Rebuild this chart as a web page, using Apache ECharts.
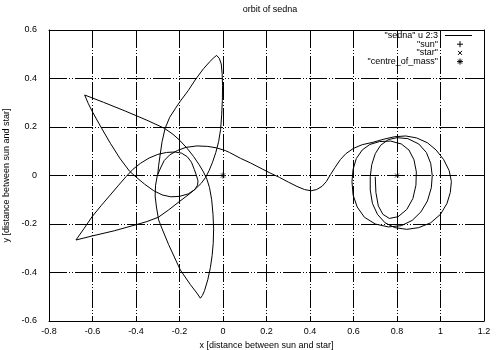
<!DOCTYPE html>
<html>
<head>
<meta charset="utf-8">
<script src="https://cdn.jsdelivr.net/npm/echarts@6/dist/echarts.min.js"></script>
<style>
  html, body { margin: 0; padding: 0; background: #fff; }
  #chart { width: 500px; height: 350px; }
</style>
</head>
<body>
<div id="chart"></div>
<script>
// Axis ticks
const xTicks = [-0.8, -0.6, -0.4, -0.2, 0, 0.2, 0.4, 0.6, 0.8, 1, 1.2];
const xTickLabels = ['-0.8', '-0.6', '-0.4', '-0.2', '0', '0.2', '0.4', '0.6', '0.8', '1', '1.2'];
const yTicks = [-0.6, -0.4, -0.2, 0, 0.2, 0.4, 0.6];
const yTickLabels = ['-0.6', '-0.4', '-0.2', '0', '0.2', '0.4', '0.6'];

// Sedna trajectory (columns 2:3), split into legs in the order they are flown.
// Leg 1: up to the upper cusp, back down past the sun to the lower-left cusp
const legUpperCusp = [
  [-0.300, 0.005], [-0.296, 0.040], [-0.288, 0.092], [-0.280, 0.140], [-0.266, 0.195],
  [-0.245, 0.240], [-0.220, 0.275], [-0.196, 0.307], [-0.160, 0.350], [-0.125, 0.398],
  [-0.090, 0.440], [-0.060, 0.470], [-0.040, 0.488], [-0.029, 0.495], [-0.017, 0.483],
  [-0.008, 0.460], [-0.004, 0.420], [-0.002, 0.370], [-0.003, 0.310], [-0.006, 0.250],
  [-0.011, 0.190], [-0.020, 0.140], [-0.033, 0.095], [-0.048, 0.055], [-0.064, 0.020],
  [-0.080, -0.008], [-0.100, -0.032], [-0.125, -0.054], [-0.150, -0.073], [-0.200, -0.107],
  [-0.250, -0.142], [-0.297, -0.172], [-0.350, -0.190], [-0.400, -0.203], [-0.500, -0.228],
  [-0.600, -0.249], [-0.676, -0.266]
];
// Leg 2: loop round the sun, out to the upper-left cusp
const legSunLoop = [
  [-0.640, -0.220], [-0.602, -0.170], [-0.560, -0.124], [-0.518, -0.080], [-0.480, -0.040],
  [-0.445, -0.004], [-0.415, 0.025], [-0.380, 0.050], [-0.340, 0.072], [-0.300, 0.087],
  [-0.260, 0.095], [-0.220, 0.097], [-0.190, 0.092], [-0.165, 0.078], [-0.145, 0.055],
  [-0.132, 0.025], [-0.122, 0.000], [-0.115, -0.022], [-0.117, -0.040], [-0.130, -0.058],
  [-0.160, -0.076], [-0.200, -0.086], [-0.240, -0.088], [-0.280, -0.080], [-0.320, -0.062],
  [-0.360, -0.036], [-0.395, -0.010], [-0.430, 0.018], [-0.475, 0.072], [-0.518, 0.133],
  [-0.560, 0.198], [-0.600, 0.262], [-0.620, 0.298], [-0.636, 0.332]
];
// Leg 3: across to the lower cusp
const legLowerCusp = [
  [-0.550, 0.302], [-0.450, 0.266], [-0.350, 0.228], [-0.270, 0.195], [-0.230, 0.170],
  [-0.200, 0.146], [-0.165, 0.112], [-0.135, 0.078], [-0.110, 0.045], [-0.090, 0.015],
  [-0.074, -0.015], [-0.062, -0.050], [-0.052, -0.100], [-0.046, -0.160], [-0.043, -0.220],
  [-0.045, -0.280], [-0.050, -0.330], [-0.058, -0.380], [-0.070, -0.430], [-0.085, -0.475],
  [-0.095, -0.495], [-0.104, -0.506]
];
// Leg 4: back up the left side
const legReturn = [
  [-0.120, -0.485], [-0.150, -0.450], [-0.196, -0.390], [-0.250, -0.285], [-0.280, -0.220],
  [-0.296, -0.183], [-0.306, -0.130], [-0.312, -0.085], [-0.310, -0.040], [-0.302, 0.000]
];
// Leg 5: transfer towards the star
const legTransfer = [
  [-0.285, 0.035], [-0.270, 0.062], [-0.245, 0.085], [-0.210, 0.103], [-0.170, 0.116],
  [-0.120, 0.122], [-0.070, 0.120], [-0.030, 0.114], [0.010, 0.103], [0.030, 0.095],
  [0.080, 0.071], [0.126, 0.052], [0.180, 0.027], [0.217, 0.010], [0.260, -0.008],
  [0.300, -0.027], [0.340, -0.045], [0.375, -0.058], [0.405, -0.063], [0.430, -0.058],
  [0.455, -0.045], [0.475, -0.025], [0.495, 0.005], [0.515, 0.033], [0.540, 0.066],
  [0.565, 0.090], [0.600, 0.112], [0.640, 0.127], [0.690, 0.137]
];
// Leg 6: captured loops round the star
const legStarLoops = [
  [0.740, 0.150], [0.790, 0.160], [0.840, 0.163], [0.890, 0.155], [0.940, 0.135],
  [0.980, 0.105], [1.015, 0.065], [1.040, 0.020], [1.050, -0.025], [1.045, -0.070],
  [1.030, -0.115], [1.000, -0.160], [0.955, -0.195], [0.900, -0.215], [0.845, -0.222],
  [0.790, -0.215], [0.745, -0.195], [0.710, -0.160], [0.687, -0.115], [0.677, -0.060],
  [0.677, -0.005], [0.684, 0.045], [0.700, 0.090], [0.725, 0.125], [0.760, 0.148],
  [0.800, 0.156], [0.850, 0.152], [0.900, 0.130], [0.935, 0.095], [0.955, 0.050],
  [0.962, 0.000], [0.958, -0.050], [0.940, -0.105], [0.910, -0.150], [0.870, -0.185],
  [0.820, -0.207], [0.760, -0.212], [0.700, -0.200], [0.650, -0.172], [0.617, -0.130],
  [0.598, -0.080], [0.593, -0.025], [0.598, 0.025], [0.613, 0.070], [0.640, 0.105],
  [0.675, 0.128], [0.720, 0.140], [0.770, 0.142], [0.820, 0.130], [0.855, 0.105],
  [0.878, 0.065], [0.889, 0.015], [0.887, -0.040], [0.873, -0.095], [0.845, -0.140],
  [0.805, -0.170], [0.765, -0.177], [0.735, -0.160], [0.714, -0.125], [0.703, -0.070],
  [0.700, -0.005]
];

// Bodies
const sunPos = [[-0.2, 0]];
const starPos = [[0.8, 0]];
const centreOfMassPos = [[0, 0]];

const legendNames = ['"sedna" u 2:3', '"sun"', '"star"', '"centre_of_mass"'];

const sedna = [].concat(legUpperCusp, legSunLoop, legLowerCusp, legReturn, legTransfer, legStarLoops);

const FONT = 'Liberation Sans, Arial, Helvetica, sans-serif';
const INK = '#000';

const plusPath = 'path://M0,5L10,5M5,0L5,10';
const crossPath = 'path://M0,0L10,10M0,10L10,0';
const starPath = 'path://M0,5L10,5M5,0L5,10M1.5,1.5L8.5,8.5M1.5,8.5L8.5,1.5';

const gridDash = [18, 2, 1, 2, 1, 2];

function lookup(ticks, labels) {
  return function (v) {
    for (let i = 0; i < ticks.length; i++) {
      if (Math.abs(ticks[i] - v) < 1e-6) return labels[i];
    }
    return '';
  };
}

const chart = echarts.init(document.getElementById('chart'), null, { renderer: 'canvas' });

const baseAxis = {
  type: 'value',
  axisLine: { show: true, onZero: false, lineStyle: { color: INK, width: 1 } },
  axisTick: { show: true, inside: true, length: 5, lineStyle: { color: INK, width: 1 } }
};

// legend block drawn top-right inside the plot frame
const legX = 438, legSym = 460, legY0 = 35.5, legStep = 8.7;
const legendGraphics = [];
legendNames.forEach(function (name, i) {
  legendGraphics.push({
    type: 'text', x: legX, y: legY0 + i * legStep,
    style: { text: name, fill: INK, font: '9px ' + FONT, align: 'right', verticalAlign: 'middle' }
  });
});
function seg(x1, y1, x2, y2) {
  return { type: 'line', shape: { x1: x1, y1: y1, x2: x2, y2: y2 }, style: { stroke: INK, lineWidth: 1 } };
}
legendGraphics.push(seg(445, legY0, 472, legY0));
const py = legY0 + legStep, cy = legY0 + 2 * legStep, sy = legY0 + 3 * legStep;
legendGraphics.push(seg(legSym - 3, py, legSym + 3, py), seg(legSym, py - 3, legSym, py + 3));
legendGraphics.push(seg(legSym - 2, cy - 2, legSym + 2, cy + 2), seg(legSym - 2, cy + 2, legSym + 2, cy - 2));
legendGraphics.push(seg(legSym - 3, sy, legSym + 3, sy), seg(legSym, sy - 3, legSym, sy + 3),
  seg(legSym - 2, sy - 2, legSym + 2, sy + 2), seg(legSym - 2, sy + 2, legSym + 2, sy - 2));

chart.setOption({
  animation: false,
  backgroundColor: '#fff',
  grid: { left: 49, right: 16, top: 30, bottom: 29, containLabel: false, outerBoundsMode: 'none' },
  xAxis: [
    Object.assign({}, baseAxis, {
      min: -0.8, max: 1.2, interval: 0.2, position: 'bottom',
      axisLabel: { formatter: lookup(xTicks, xTickLabels), color: INK, fontSize: 9, fontFamily: FONT, margin: 6 },
      splitLine: { show: true, lineStyle: { color: INK, width: 1, type: gridDash } },
      name: 'x [distance between sun and star]', nameLocation: 'middle', nameGap: 17,
      nameTextStyle: { color: INK, fontSize: 9, fontFamily: FONT }
    }),
    Object.assign({}, baseAxis, {
      min: -0.8, max: 1.2, interval: 0.2, position: 'top',
      axisLabel: { show: false }, splitLine: { show: false }
    })
  ],
  yAxis: [
    Object.assign({}, baseAxis, {
      min: -0.6, max: 0.6, interval: 0.2, position: 'left',
      axisLabel: { formatter: lookup(yTicks, yTickLabels), color: INK, fontSize: 9, fontFamily: FONT, margin: 12 },
      splitLine: { show: true, lineStyle: { color: INK, width: 1, type: gridDash } },
      name: 'y [distance between sun and star]', nameLocation: 'middle', nameGap: 31,
      nameTextStyle: { color: INK, fontSize: 9, fontFamily: FONT }
    }),
    Object.assign({}, baseAxis, {
      min: -0.6, max: 0.6, interval: 0.2, position: 'right',
      axisLabel: { show: false }, splitLine: { show: false }
    })
  ],
  graphic: [
    {
      type: 'text', x: 270, y: 10,
      style: { text: 'orbit of sedna', fill: INK, font: '9px ' + FONT, align: 'center', verticalAlign: 'middle' }
    }
  ].concat(legendGraphics),
  series: [
    {
      name: legendNames[0], type: 'line', data: sedna, showSymbol: false, symbol: 'none',
      lineStyle: { color: INK, width: 1 }, z: 3
    },
    {
      name: legendNames[1], type: 'scatter', data: sunPos, symbol: plusPath, symbolSize: 6,
      itemStyle: { color: 'rgba(0,0,0,0)', borderColor: INK, borderWidth: 1 }, z: 4
    },
    {
      name: legendNames[2], type: 'scatter', data: starPos, symbol: crossPath, symbolSize: 4,
      itemStyle: { color: 'rgba(0,0,0,0)', borderColor: INK, borderWidth: 1 }, z: 4
    },
    {
      name: legendNames[3], type: 'scatter', data: centreOfMassPos, symbol: starPath, symbolSize: 6,
      itemStyle: { color: 'rgba(0,0,0,0)', borderColor: INK, borderWidth: 1 }, z: 4
    }
  ]
});
</script>
</body>
</html>
